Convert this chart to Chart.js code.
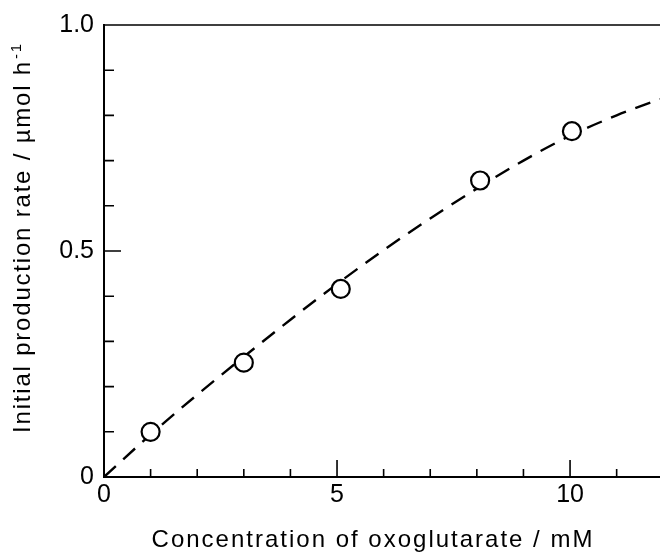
<!DOCTYPE html>
<html>
<head>
<meta charset="utf-8">
<script src="https://cdn.jsdelivr.net/npm/chart.js@4/dist/chart.umd.min.js"></script>
<style>
  body { margin: 0; background: #fff; }
  canvas { display: block; }
</style>
</head>
<body>
<canvas id="rateChart" width="660" height="554"></canvas>
<script>
// measured points (oxoglutarate mM vs initial rate umol/h)
const pointX = [1.0, 3.0, 5.08, 8.07, 10.04];
const pointY = [0.10, 0.253, 0.416, 0.656, 0.765];

// dashed fitted curve
const curveX = [0, 1, 2, 3, 4, 5, 6, 7, 8, 9, 10, 11, 11.93];
const curveY = [0, 0.094, 0.182, 0.266, 0.348, 0.427, 0.502, 0.572, 0.638, 0.700, 0.755, 0.800, 0.836];

// axis ticks
const xTicks = [0, 1, 2, 3, 4, 5, 6, 7, 8, 9, 10, 11];
const xMajor = [0, 5, 10];
const xLabels = ['0', '5', '10'];
const yTicks = [0, 0.1, 0.2, 0.3, 0.4, 0.5, 0.6, 0.7, 0.8, 0.9, 1.0];
const yMajor = [0, 0.5, 1.0];
const yLabels = ['0', '0.5', '1.0'];

const xTitle = 'Concentration of oxoglutarate / mM';
const yTitle = 'Initial production rate / \u00b5mol h';
const yTitleSup = '-1';

const FONT = '"Liberation Sans", Arial, sans-serif';

// inward tick marks + top frame line
const frame = {
  id: 'frame',
  afterDraw(chart) {
    const { ctx, chartArea: a, scales: { x, y } } = chart;
    ctx.save();
    ctx.strokeStyle = '#000';
    ctx.lineWidth = 1.6;
    ctx.beginPath();
    xTicks.forEach(v => {
      const px = x.getPixelForValue(v);
      const len = xMajor.includes(v) ? 17 : 8;
      ctx.moveTo(px, a.bottom);
      ctx.lineTo(px, a.bottom - len);
    });
    yTicks.forEach(v => {
      const py = y.getPixelForValue(v);
      const len = yMajor.includes(v) ? 17 : 10;
      ctx.moveTo(a.left, py);
      ctx.lineTo(a.left + len, py);
    });
    ctx.moveTo(a.left, a.top);
    ctx.lineTo(a.right, a.top);
    ctx.stroke();
    ctx.restore();
  }
};

// axis titles (letter-spaced like the scanned figure)
const titles = {
  id: 'titles',
  afterDraw(chart) {
    const { ctx } = chart;
    ctx.save();
    ctx.fillStyle = '#000';
    ctx.letterSpacing = '2px';
    ctx.font = '24px ' + FONT;
    ctx.textAlign = 'center';
    ctx.textBaseline = 'alphabetic';
    ctx.fillText(xTitle, 373, 547);

    ctx.letterSpacing = '1.8px';
    ctx.translate(30, 238);
    ctx.rotate(-Math.PI / 2);
    ctx.textAlign = 'left';
    const w1 = ctx.measureText(yTitle).width;
    ctx.font = '15px ' + FONT;
    const w2 = ctx.measureText(yTitleSup).width;
    const start = -(w1 + w2) / 2;
    ctx.font = '24px ' + FONT;
    ctx.fillText(yTitle, start, 0);
    ctx.font = '15px ' + FONT;
    ctx.fillText(yTitleSup, start + w1 + 1, -9);
    ctx.restore();
  }
};

const ctx = document.getElementById('rateChart').getContext('2d');
new Chart(ctx, {
  type: 'scatter',
  data: {
    datasets: [
      {
        label: 'measured',
        data: pointX.map((v, i) => ({ x: v, y: pointY[i] })),
        pointRadius: 9,
        pointBorderWidth: 2.2,
        pointBorderColor: '#000',
        pointBackgroundColor: '#fff',
        order: 0
      },
      {
        label: 'fit',
        data: curveX.map((v, i) => ({ x: v, y: curveY[i] })),
        showLine: true,
        pointRadius: 0,
        borderColor: '#000',
        borderWidth: 2.4,
        borderDash: [16, 10],
        cubicInterpolationMode: 'monotone',
        order: 1
      }
    ]
  },
  options: {
    responsive: false,
    animation: false,
    layout: { autoPadding: false, padding: { top: 25, right: 0, left: 0, bottom: 0 } },
    plugins: {
      legend: { display: false },
      tooltip: { enabled: false }
    },
    scales: {
      x: {
        type: 'linear',
        min: 0,
        max: 11.93,
        grid: { display: false, drawTicks: false },
        border: { display: true, color: '#000', width: 2 },
        afterBuildTicks: s => { s.ticks = xTicks.map(v => ({ value: v })); },
        afterFit: s => { s.height = 77; s.paddingRight = 0; s.paddingLeft = 0; },
        ticks: {
          autoSkip: false,
          maxRotation: 0,
          padding: 3,
          color: '#000',
          font: { family: FONT, size: 25 },
          callback: v => {
            const i = xMajor.indexOf(v);
            return i >= 0 ? xLabels[i] : '';
          }
        }
      },
      y: {
        type: 'linear',
        min: 0,
        max: 1,
        grid: { display: false, drawTicks: false },
        border: { display: true, color: '#000', width: 2 },
        afterBuildTicks: s => { s.ticks = yTicks.map(v => ({ value: v })); },
        afterFit: s => { s.width = 104; },
        ticks: {
          autoSkip: false,
          padding: 10,
          color: '#000',
          font: { family: FONT, size: 25 },
          callback: v => {
            const i = yMajor.findIndex(m => Math.abs(m - v) < 1e-6);
            return i >= 0 ? yLabels[i] : '';
          }
        }
      }
    }
  },
  plugins: [frame, titles]
});
</script>
</body>
</html>
